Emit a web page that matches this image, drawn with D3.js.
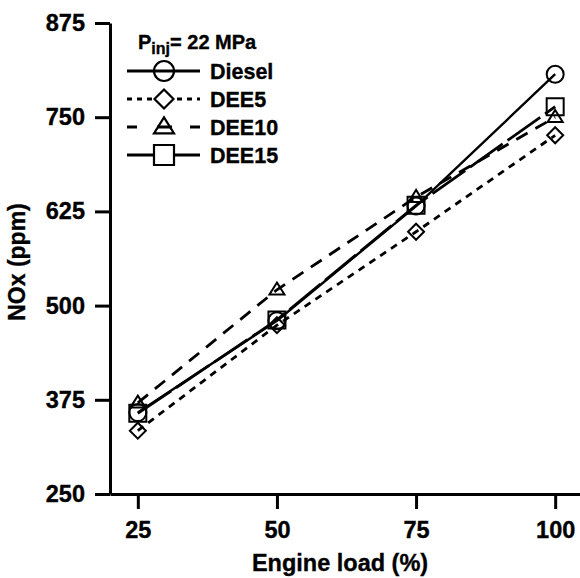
<!DOCTYPE html>
<html>
<head>
<meta charset="utf-8">
<script src="https://cdn.jsdelivr.net/npm/d3@7"></script>
<style>
  body { margin: 0; background: #fff; }
  svg { display: block; font-family: "Liberation Sans", Arial, sans-serif; font-weight: bold; }
  .lbl { stroke: #000; stroke-width: 0.35px; }
</style>
</head>
<body>
<div id="chart"></div>
<script>
// data
var loads = [25, 50, 75, 100];
var xTicks = [25, 50, 75, 100];
var yTicks = [250, 375, 500, 625, 750, 875];
var seriesNames = ["Diesel", "DEE5", "DEE10", "DEE15"];
var diesel = [358, 480, 632, 807];
var dee5 = [334, 474, 598, 726];
var dee10 = [371, 521, 644, 750];
var dee15 = [357, 481, 633, 764];

var W = 580, H = 578;
var svg = d3.select("#chart").append("svg").attr("width", W).attr("height", H);

var x = d3.scaleLinear().domain([20, 105]).range([110, 583]);
var y = d3.scaleLinear().domain([250, 875]).range([494, 23]);

// marker shapes, centred on 0,0
function marker(kind, s) {
  var h = s / 2;
  if (kind == "circle") return d3.symbol().type(d3.symbolCircle).size(Math.PI * h * h)();
  if (kind == "square") return "M" + (-h) + "," + (-h) + "H" + h + "V" + h + "H" + (-h) + "Z";
  if (kind == "diamond") return "M0," + (-h) + "L" + h + ",0L0," + h + "L" + (-h) + ",0Z";
  // triangle
  var th = s * 0.8;
  return "M0," + (-th * 0.6) + "L" + h + "," + (th * 0.4) + "L" + (-h) + "," + (th * 0.4) + "Z";
}

var series = [
  { name: seriesNames[0], vals: diesel, dash: null, ldash: null, sym: "circle", size: 17, lsize: 20, lfill: "none" },
  { name: seriesNames[1], vals: dee5, dash: "7,6", ldash: "5,5", sym: "diamond", size: 16, lsize: 19, lfill: "#fff" },
  { name: seriesNames[2], vals: dee10, dash: "13,9", ldash: "10,20,15,18,10", sym: "triangle", size: 15, lsize: 20, lfill: "none" },
  { name: seriesNames[3], vals: dee15, dash: "40,6", ldash: null, sym: "square", size: 17, lsize: 20, lfill: "#fff" }
];

// axes
var yAxis = svg.append("g").attr("transform", "translate(110,0)")
  .call(d3.axisLeft(y).tickValues(yTicks).tickSize(15).tickSizeOuter(0).tickPadding(10));
var xAxis = svg.append("g").attr("transform", "translate(0,494)")
  .call(d3.axisBottom(x).tickValues(xTicks).tickSize(15).tickSizeOuter(0).tickPadding(12));

[xAxis, yAxis].forEach(function (a) {
  a.selectAll("path, line").attr("stroke", "#000").attr("stroke-width", 3);
  a.selectAll("text").attr("fill", "#000").attr("class", "lbl").style("font-size", "23.5px").style("font-weight", "bold")
    .style("font-family", "'Liberation Sans', Arial, sans-serif");
});

svg.append("text").attr("class", "lbl").attr("x", 340).attr("y", 571).attr("text-anchor", "middle")
  .style("font-size", "23.5px").text("Engine load (%)");
svg.append("text").attr("class", "lbl").attr("transform", "translate(25,262) rotate(-90)").attr("text-anchor", "middle")
  .style("font-size", "23px").text("NOx (ppm)");

// lines
var line = d3.line().x(function (d, i) { return x(loads[i]); }).y(function (d) { return y(d); });

series.forEach(function (s) {
  svg.append("path").datum(s.vals)
    .attr("d", line)
    .attr("fill", "none")
    .attr("stroke", "#000")
    .attr("stroke-width", s.dash ? 2.8 : 2.4)
    .attr("stroke-dasharray", s.dash);
});

series.forEach(function (s) {
  svg.selectAll(null).data(s.vals).enter().append("path")
    .attr("transform", function (d, i) { return "translate(" + x(loads[i]) + "," + y(d) + ")"; })
    .attr("d", marker(s.sym, s.size))
    .attr("fill", "none")
    .attr("stroke", "#000")
    .attr("stroke-width", 2);
});

// legend
var leg = svg.append("g");
var title = leg.append("text").attr("class", "lbl").attr("x", 138).attr("y", 49).style("font-size", "20px");
title.append("tspan").text("P");
title.append("tspan").attr("dy", 5).style("font-size", "16px").text("inj");
title.append("tspan").attr("dy", -5).text("= 22 MPa");

var rowY = [71, 99, 127, 155];
series.forEach(function (s, i) {
  var g = leg.append("g").attr("transform", "translate(0," + rowY[i] + ")");
  g.append("line").attr("x1", 127).attr("x2", 200).attr("y1", 0).attr("y2", 0)
    .attr("stroke", "#000").attr("stroke-width", 2.8).attr("stroke-dasharray", s.ldash);
  g.append("path").attr("transform", "translate(164,0)")
    .attr("d", marker(s.sym, s.lsize))
    .attr("fill", s.lfill)
    .attr("stroke", "#000").attr("stroke-width", 2.2);
  g.append("text").attr("class", "lbl").attr("x", 210).attr("y", 8).style("font-size", "21.5px").text(s.name);
});
</script>
</body>
</html>
